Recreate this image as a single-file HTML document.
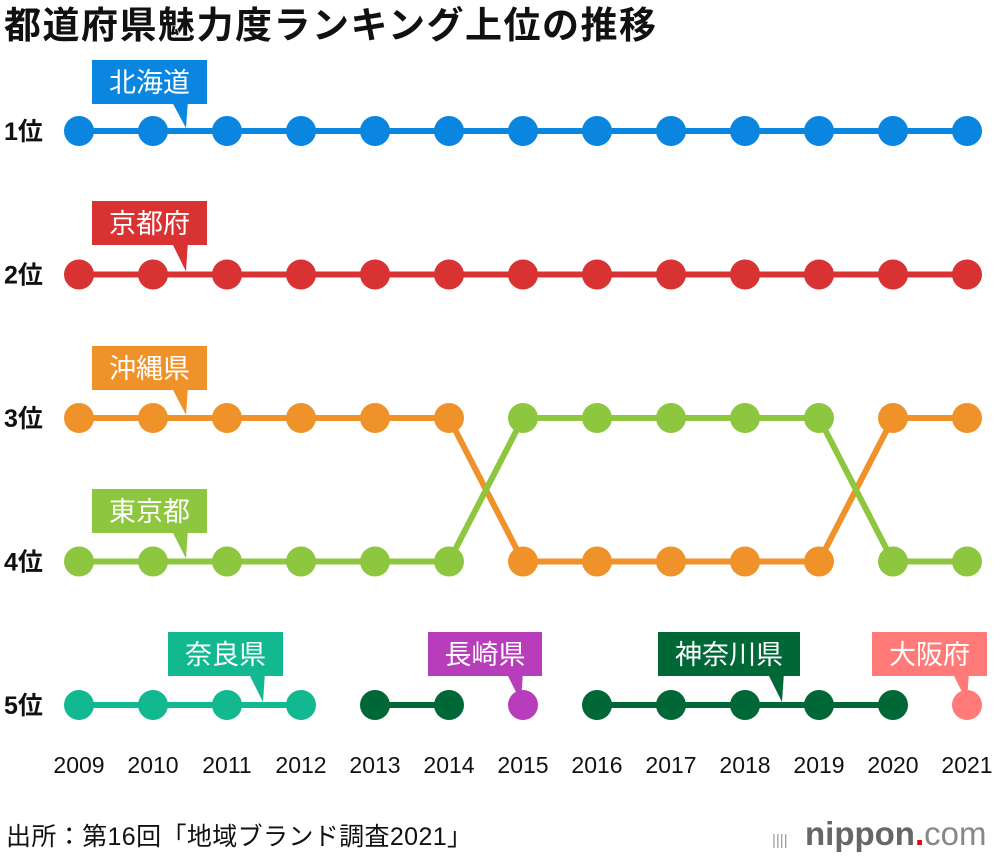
<!DOCTYPE html>
<html><head><meta charset="utf-8"><style>
body{margin:0;background:#fff;width:1000px;height:856px;overflow:hidden;font-family:"Liberation Sans","Noto Sans CJK JP",sans-serif}
svg text{font-family:"Liberation Sans","Noto Sans CJK JP",sans-serif}
</style></head><body>
<svg id="c" width="1000" height="856">
<text x="4" y="38" font-size="37" font-weight="bold" fill="#111" textLength="652">都道府県魅力度ランキング上位の推移</text>
<text x="6" y="845" font-size="25" fill="#111" textLength="466">出所：第16回「地域ブランド調査2021」</text>
<text x="772" y="845" font-size="15" fill="#999">||||</text>
<text x="805" y="845" font-size="33" font-weight="bold" fill="#666">nippon<tspan fill="#e60012">.</tspan><tspan font-weight="normal" fill="#888">com</tspan></text>
</svg>
<script>
const years=[2009,2010,2011,2012,2013,2014,2015,2016,2017,2018,2019,2020,2021];
const rankLabels=["1位","2位","3位","4位","5位"];
const names=["北海道","京都府","沖縄県","東京都","奈良県","長崎県","神奈川県","大阪府"];
const hokkaido=[1,1,1,1,1,1,1,1,1,1,1,1,1];
const kyoto=[2,2,2,2,2,2,2,2,2,2,2,2,2];
const okinawa=[3,3,3,3,3,3,4,4,4,4,4,3,3];
const tokyo=[4,4,4,4,4,4,3,3,3,3,3,4,4];
const nara=[5,5,5,5,null,null,null,null,null,null,null,null,null];
const nagasaki=[null,null,null,null,null,null,5,null,null,null,null,null,null];
const kanagawa=[null,null,null,null,5,5,null,5,5,5,5,5,null];
const osaka=[null,null,null,null,null,null,null,null,null,null,null,null,5];
const series=[hokkaido,kyoto,okinawa,tokyo,nara,nagasaki,kanagawa,osaka];
const colors=["#0a85e0","#d93232","#f0922a","#8dc63f","#12b890","#b83dba","#006837","#ff7a78"];
const labelPos=[[92,60,115,186,0],[92,201,115,186,0],[92,346,115,186,0],[92,489,115,186,0],[168,632,115,263,3],[428,632,114,521,6],[658,632,142,782,9],[872,632,115,967,12]];
const X=i=>79+i*74;
const Y=r=>131+(r-1)*143.5;
const svg=document.getElementById('c');
const NS="http://www.w3.org/2000/svg";
function mk(t,a){const e=document.createElementNS(NS,t);for(const k in a)e.setAttribute(k,a[k]);svg.appendChild(e);return e;}
rankLabels.forEach((l,i)=>{const t=mk('text',{x:4,y:Y(i+1)+9,'font-size':25,'font-weight':'bold',fill:'#111'});t.textContent=l;

});
years.forEach((yv,i)=>{const t=mk('text',{x:X(i),y:773,'font-size':23,'text-anchor':'middle',fill:'#111'});t.textContent=yv;

});
series.forEach((s,k)=>{
 for(let i=0;i<s.length-1;i++){if(s[i]!=null&&s[i+1]!=null){const l=mk('line',{x1:X(i),y1:Y(s[i]),x2:X(i+1),y2:Y(s[i+1]),stroke:colors[k],'stroke-width':6});
 
 }}
});
series.forEach((s,k)=>{
 s.forEach((v,i)=>{if(v!=null){const c=mk('circle',{cx:X(i),cy:Y(v),r:15,fill:colors[k]});
 
 }});
 const [bx,by,bw,tx,ti]=labelPos[k];const py=Y(s[ti]);
 const g=mk('polygon',{points:`${tx-15},${by+40} ${tx+2},${by+40} ${tx},${py-3}`,fill:colors[k]});
 
 
 const r=mk('rect',{x:bx,y:by,width:bw,height:44,fill:colors[k]});
 
 
 const t=mk('text',{x:bx+bw/2,y:by+32,'font-size':27,'text-anchor':'middle',fill:'#fff'});t.textContent=names[k];
 
 
});
</script>
</body></html>
